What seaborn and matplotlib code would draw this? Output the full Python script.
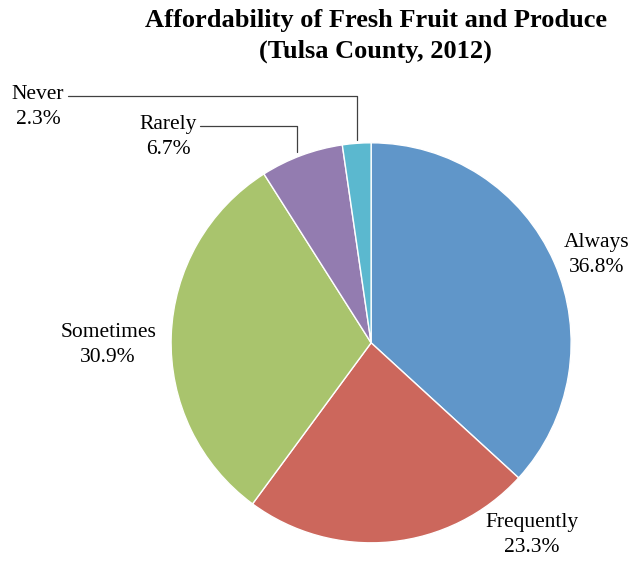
import matplotlib
matplotlib.use('Agg')
import matplotlib.pyplot as plt
import seaborn as sns

sns.set_style('white')
plt.rcParams['font.family'] = ['Liberation Serif', 'DejaVu Serif']

categories = ['Always', 'Frequently', 'Sometimes', 'Rarely', 'Never']
shares = [36.8, 23.3, 30.9, 6.7, 2.3]
colors = ['#6096C9', '#CC675C', '#A9C46D', '#937CB0', '#5BB8CF']

fig = plt.figure(figsize=(6.29, 5.62), dpi=100)
ax = fig.add_axes([0.272, 0.034, 0.636, 0.712])
ax.pie(shares, colors=colors, startangle=90, counterclock=False,
       wedgeprops=dict(linewidth=1.0, edgecolor='white'), radius=1.0)
ax.set_xlim(-1, 1)
ax.set_ylim(-1, 1)
ax.set_aspect('equal')
ax.axis('off')

# label positions in data units (pie radius = 1)
label_pos = {
    'Always': (1.125, 0.44),
    'Frequently': (0.805, -0.96),
    'Sometimes': (-1.315, -0.01),
    'Rarely': (-1.015, 1.03),
    'Never': (-1.665, 1.18),
}
for cat, val in zip(categories, shares):
    x, y = label_pos[cat]
    ax.text(x, y, f'{cat}\n{val:.1f}%', ha='center', va='center', color='black',
            fontsize=15.5, linespacing=1.45, clip_on=False)

# leader lines
ax.plot([-1.515, -0.07, -0.07], [1.235, 1.235, 1.015], color='#404040',
        linewidth=0.9, clip_on=False)
ax.plot([-0.855, -0.37, -0.37], [1.085, 1.085, 0.955], color='#404040',
        linewidth=0.9, clip_on=False)

fig.text(0.597, 0.984, 'Affordability of Fresh Fruit and Produce\n(Tulsa County, 2012)',
         ha='center', va='top', fontsize=19, fontweight='bold', color='black',
         linespacing=1.42)

fig.savefig('out.png', dpi=100)
